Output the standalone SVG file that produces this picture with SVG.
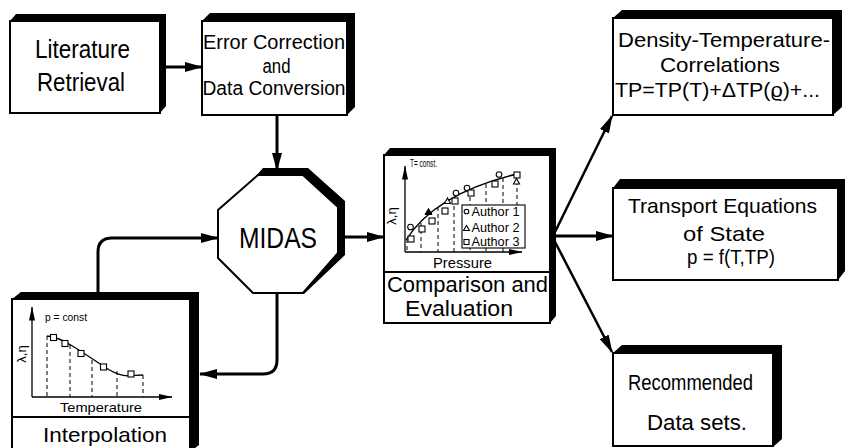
<svg xmlns="http://www.w3.org/2000/svg" width="846" height="448" viewBox="0 0 846 448">
<defs>
<style>
.face{fill:#fff;stroke:#000;stroke-width:2}
.ext{fill:#000}
.lbl{font-family:"Liberation Sans",Arial,sans-serif;fill:#000;text-anchor:middle}
.sm{font-family:"Liberation Sans",Arial,sans-serif;fill:#000}
.conn{fill:none;stroke:#000;stroke-width:3}
.thin{fill:none;stroke:#000;stroke-width:2.5}
.ax{fill:none;stroke:#000;stroke-width:1.3}
.dash{fill:none;stroke:#000;stroke-width:1;stroke-dasharray:4 3}
.crv{fill:none;stroke:#000;stroke-width:1.3}
.mk{fill:#fff;stroke:#000;stroke-width:1.1}
.div{stroke:#000;stroke-width:2}
</style>
<marker id="ah" markerUnits="userSpaceOnUse" markerWidth="18" markerHeight="10" refX="17" refY="5" orient="auto" viewBox="0 0 18 10">
<path d="M0,0 L18,5 L0,10 Z" fill="#000"/>
</marker>
<marker id="sa" markerUnits="userSpaceOnUse" markerWidth="14" markerHeight="7" refX="13.5" refY="3.5" orient="auto" viewBox="0 0 14 7">
<path d="M0,0.5 L14,3.5 L0,6.5 Z" fill="#000"/>
</marker>
</defs>
<rect width="846" height="448" fill="#fff"/>

<g id="connectors">
<path class="conn" d="M166,67 H202" marker-end="url(#ah)"/>
<path class="conn" d="M277,115 V170" marker-end="url(#ah)"/>
<path class="conn" d="M98,292 V252 Q98,238 112,238 H218" marker-end="url(#ah)"/>
<path class="conn" d="M277,293 V360 Q277,374 263,374 H200" marker-end="url(#ah)"/>
<path class="conn" d="M345,237 H384" marker-end="url(#ah)"/>
<path class="thin" d="M553,236 L612,116" marker-end="url(#ah)"/>
<path class="conn" d="M553,236 H613" marker-end="url(#ah)"/>
<path class="thin" d="M553,238 L612,352" marker-end="url(#ah)"/>
</g>

<g id="literature">
<polygon class="ext" points="10,21 16,14 166,14 166,106 160,113 160,21"/>
<rect class="face" x="10" y="21" width="150" height="92"/>
<text class="lbl" x="82.5" y="58" font-size="25" textLength="95" lengthAdjust="spacingAndGlyphs">Literature</text>
<text class="lbl" x="81" y="91" font-size="25" textLength="88" lengthAdjust="spacingAndGlyphs">Retrieval</text>
</g>

<g id="error">
<polygon class="ext" points="202,21 210,13 355,13 355,107 347,115 347,21"/>
<rect class="face" x="202" y="21" width="145" height="94"/>
<text class="lbl" x="274" y="49" font-size="20" textLength="142" lengthAdjust="spacingAndGlyphs">Error Correction</text>
<text class="lbl" x="276.5" y="73" font-size="20" textLength="28" lengthAdjust="spacingAndGlyphs">and</text>
<text class="lbl" x="274" y="95" font-size="20" textLength="143" lengthAdjust="spacingAndGlyphs">Data Conversion</text>
</g>

<g id="midas">
<polygon class="ext" points="256,176 263,168 308,168 345,201 345,255 304,294 303,293 338,253 338,207 303,175"/>
<polygon class="face" points="258,175 303,175 338,207 338,253 303,293 253,293 218,258 218,210"/>
<text class="lbl" x="278" y="248" font-size="30" textLength="78" lengthAdjust="spacingAndGlyphs">MIDAS</text>
</g>

<g id="comparison">
<polygon class="ext" points="384,155 390,148 556,148 556,316 550,323 550,155"/>
<rect class="face" x="384" y="155" width="166" height="168"/>
<line class="div" x1="384" y1="272" x2="550" y2="272"/>
<path class="dash" d="M407,239 V252 M421,223 V252 M438,207 V252 M454,199 V252 M470,190 V252 M486,184 V252 M503,178 V252 M517,174 V252"/>
<path class="ax" d="M405,252 V166" marker-end="url(#sa)"/>
<path class="ax" d="M405,252 H522" marker-end="url(#sa)"/>
<path class="crv" d="M406,240 C420,218 450,190 517,174"/>
<g class="mk">
<circle cx="410.5" cy="227" r="2.8"/>
<circle cx="456" cy="193" r="2.8"/>
<circle cx="467" cy="188" r="2.8"/>
<circle cx="499" cy="174.5" r="2.8"/>
<rect x="408" y="236" width="6" height="6"/>
<rect x="419" y="226" width="6" height="6"/>
<rect x="429" y="218" width="6" height="6"/>
<rect x="442" y="208" width="6" height="6"/>
<rect x="452" y="198" width="6" height="6"/>
<rect x="468" y="190" width="6" height="6"/>
<rect x="492" y="181" width="6" height="6"/>
<rect x="514" y="172" width="6" height="6"/>
<polygon points="444.5,203.5 447.5,198 450.5,203.5"/>
<polygon points="513.5,184 516.5,178.5 519.5,184"/>
</g>
<polygon points="425,214.5 428.5,208.5 432,214.5" fill="#000" stroke="#000" stroke-width="1"/>
<rect class="mk" x="462" y="205" width="63" height="43"/>
<circle class="mk" cx="466.5" cy="211.5" r="2.3"/>
<polygon class="mk" points="463.5,230.5 466.5,225.5 469.5,230.5"/>
<rect class="mk" x="464" y="239.5" width="5" height="5"/>
<text class="sm" x="471.5" y="215.5" font-size="12" textLength="48" lengthAdjust="spacingAndGlyphs">Author 1</text>
<text class="sm" x="471.5" y="232" font-size="12" textLength="48" lengthAdjust="spacingAndGlyphs">Author 2</text>
<text class="sm" x="471.5" y="246" font-size="12" textLength="48" lengthAdjust="spacingAndGlyphs">Author 3</text>
<text class="sm" x="410" y="167" font-size="10" textLength="27" lengthAdjust="spacingAndGlyphs">T= const.</text>
<text class="lbl" transform="translate(396,216) rotate(-90)" font-size="13">λ,η</text>
<text class="lbl" x="462.5" y="268" font-size="14" textLength="59" lengthAdjust="spacingAndGlyphs">Pressure</text>
<text class="lbl" x="467.5" y="292" font-size="22" textLength="161" lengthAdjust="spacingAndGlyphs">Comparison and</text>
<text class="lbl" x="459" y="316" font-size="22" textLength="108" lengthAdjust="spacingAndGlyphs">Evaluation</text>
</g>

<g id="interpolation">
<polygon class="ext" points="12,299 21,292 199,292 199,445 190,452 190,299"/>
<rect class="face" x="12" y="299" width="178" height="153"/>
<line class="div" x1="12" y1="417" x2="190" y2="417"/>
<path class="dash" d="M47,336 V397 M70,345 V397 M92,360 V397 M117,371 V397 M143,375 V397"/>
<path class="ax" d="M32,397 V307" marker-end="url(#sa)"/>
<path class="ax" d="M32,397 H172" marker-end="url(#sa)"/>
<path class="crv" d="M47,336 L53,337 C65,340 82,352 103,366 S130,375 143,375"/>
<g class="mk">
<rect x="50.5" y="334.5" width="6" height="6"/>
<rect x="62" y="340.5" width="6" height="6"/>
<rect x="78" y="350.5" width="6" height="6"/>
<rect x="100.5" y="364" width="6" height="6"/>
<rect x="128" y="371" width="6" height="6"/>
</g>
<text class="sm" x="45" y="321" font-size="10" textLength="42" lengthAdjust="spacingAndGlyphs">p = const</text>
<text class="lbl" transform="translate(26,354) rotate(-90)" font-size="13">λ,η</text>
<text class="lbl" x="101" y="411.5" font-size="13" textLength="82" lengthAdjust="spacingAndGlyphs">Temperature</text>
<text class="lbl" x="105" y="442" font-size="21" textLength="124" lengthAdjust="spacingAndGlyphs">Interpolation</text>
</g>

<g id="density">
<polygon class="ext" points="613,18 622,10 842,10 842,107 833,115 833,18"/>
<rect class="face" x="613" y="18" width="220" height="97"/>
<text class="lbl" x="724" y="47" font-size="21" textLength="212" lengthAdjust="spacingAndGlyphs">Density-Temperature-</text>
<text class="lbl" x="720" y="72" font-size="21" textLength="120" lengthAdjust="spacingAndGlyphs">Correlations</text>
<text class="lbl" x="717.5" y="97" font-size="21" textLength="205" lengthAdjust="spacingAndGlyphs">TP=TP(T)+ΔTP(ϱ)+...</text>
</g>

<g id="transport">
<polygon class="ext" points="613,188 620,179 845,179 845,271 838,280 838,188"/>
<rect class="face" x="613" y="188" width="225" height="92"/>
<text class="lbl" x="722.5" y="213" font-size="21" textLength="189" lengthAdjust="spacingAndGlyphs">Transport Equations</text>
<text class="lbl" x="724" y="241" font-size="21" textLength="82" lengthAdjust="spacingAndGlyphs">of  State</text>
<text class="lbl" x="731" y="264" font-size="21" textLength="88" lengthAdjust="spacingAndGlyphs">p = f(T,TP)</text>
</g>

<g id="recommended">
<polygon class="ext" points="613,353 622,345 782,345 782,439 773,447 773,353"/>
<rect class="face" x="613" y="353" width="160" height="93"/>
<text class="lbl" x="690.5" y="390" font-size="22" textLength="125" lengthAdjust="spacingAndGlyphs">Recommended</text>
<text class="lbl" x="697" y="430" font-size="22" textLength="100" lengthAdjust="spacingAndGlyphs">Data sets.</text>
</g>
</svg>
